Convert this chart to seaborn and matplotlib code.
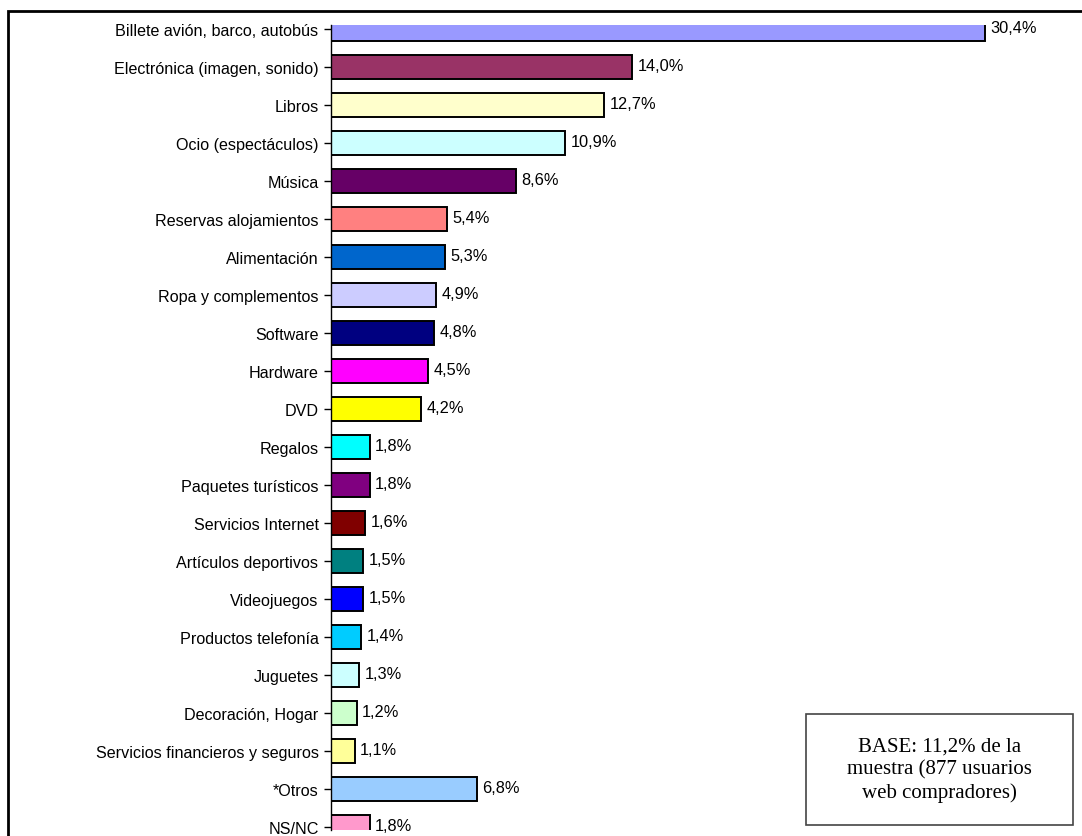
import matplotlib
matplotlib.use("Agg")
import matplotlib.pyplot as plt
import seaborn as sns
import pandas as pd
from matplotlib.patches import Rectangle

categories = [
    "Billete avión, barco, autobús", "Electrónica (imagen, sonido)", "Libros",
    "Ocio (espectáculos)", "Música", "Reservas alojamientos", "Alimentación",
    "Ropa y complementos", "Software", "Hardware", "DVD", "Regalos",
    "Paquetes turísticos", "Servicios Internet", "Artículos deportivos",
    "Videojuegos", "Productos telefonía", "Juguetes", "Decoración, Hogar",
    "Servicios financieros y seguros", "*Otros", "NS/NC",
]
values = [30.4, 14.0, 12.7, 10.9, 8.6, 5.4, 5.3, 4.9, 4.8, 4.5, 4.2,
          1.8, 1.8, 1.6, 1.5, 1.5, 1.4, 1.3, 1.2, 1.1, 6.8, 1.8]
colors = ["#9999FF", "#993366", "#FFFFCC", "#CCFFFF", "#660066", "#FF8080",
          "#0066CC", "#CCCCFF", "#000080", "#FF00FF", "#FFFF00", "#00FFFF",
          "#800080", "#800000", "#008080", "#0000FF", "#00CCFF", "#CCFFFF",
          "#CCFFCC", "#FFFF99", "#99CCFF", "#FF99CC"]
note = "BASE: 11,2% de la\nmuestra (877 usuarios\nweb compradores)"

sns.set_theme(style="white")
plt.rcParams["font.family"] = ["Liberation Sans", "DejaVu Sans"]

W, H = 1082, 837
fig = plt.figure(figsize=(W / 100, H / 100), dpi=100)
fig.patch.set_facecolor("white")

ax_left, ax_top, ax_bottom = 331, 26, 831
px_per_unit = 21.5
xmax = 34
ax = fig.add_axes([ax_left / W, 1 - ax_bottom / H,
                   xmax * px_per_unit / W, (ax_bottom - ax_top) / H])

df = pd.DataFrame({"cat": categories, "val": values})
sns.barplot(data=df, x="val", y="cat", hue="cat", palette=colors,
            legend=False, orient="h", width=0.63, edgecolor="black",
            linewidth=1.4, ax=ax, saturation=1)

ax.set_xlim(0, xmax)
ax.set_ylim(21.08, -0.105)
ax.set_xlabel("")
ax.set_ylabel("")
ax.set_xticks([])
for s in ["top", "right", "bottom"]:
    ax.spines[s].set_visible(False)
ax.spines["left"].set_color("black")
ax.spines["left"].set_linewidth(1.0)
ax.tick_params(axis="y", which="major", left=True, length=5, width=1,
               color="black", pad=4, labelsize=11.6, labelcolor="black")

for i, v in enumerate(values):
    ax.text(v + 0.25, i - 0.03, f"{v:.1f}%".replace(".", ","), va="center",
            ha="left", fontsize=11.8, color="black", clip_on=False)

# outer frame
fig.patches.append(Rectangle((8 / W, -0.05), 1.2, 1 - 12 / H + 0.05,
                             transform=fig.transFigure, fill=False,
                             edgecolor="black", linewidth=2, clip_on=False))

# note box
bx0, by0, bx1, by1 = 806, 715, 1073, 826
fig.patches.append(Rectangle((bx0 / W, 1 - by1 / H), (bx1 - bx0) / W,
                             (by1 - by0) / H, transform=fig.transFigure,
                             facecolor="white", edgecolor="#444444",
                             linewidth=1.2))
fig.text((bx0 + bx1) / 2 / W, 1 - (by0 + by1) / 2 / H, note, ha="center",
         va="center", fontsize=15, linespacing=1.25,
         family=["Liberation Serif", "DejaVu Serif"], color="black")

fig.savefig("out.png", dpi=100)
